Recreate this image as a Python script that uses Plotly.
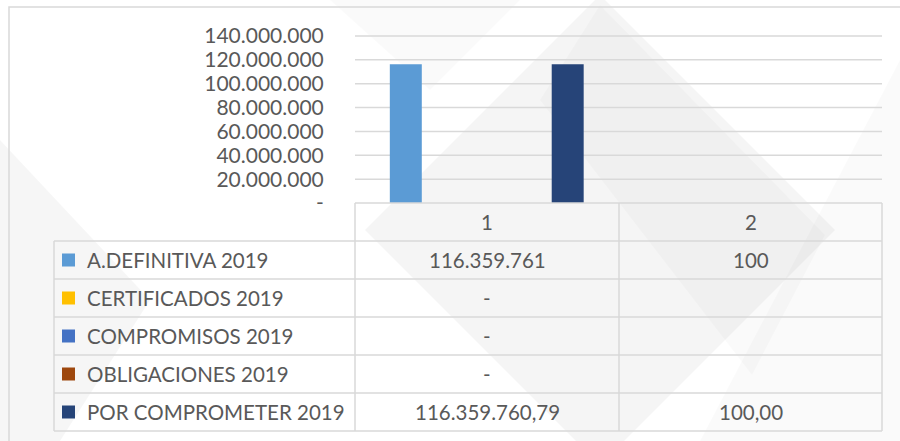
import plotly.graph_objects as go

categories = ["1", "2"]
series_names = ["A.DEFINITIVA 2019", "CERTIFICADOS 2019", "COMPROMISOS 2019",
                "OBLIGACIONES 2019", "POR COMPROMETER 2019"]
definitiva = [116359761, 100]
certificados = [0, None]
compromisos = [0, None]
obligaciones = [0, None]
por_comprometer = [116359760.79, 100.00]
decimals = [0, 0, 0, 0, 2]
colors = ["#5B9BD5", "#FFC000", "#4472C4", "#9E480E", "#264478"]
y_ticks = [0, 20000000, 40000000, 60000000, 80000000, 100000000, 120000000, 140000000]

all_series = [definitiva, certificados, compromisos, obligaciones, por_comprometer]

W, H = 900, 441
FONT = "Lato"
GREY_TXT = "#595959"
LINE = "#d9d9d9"


def px(x):
    return x / W


def py(y):
    return 1 - y / H


def fmt(v, dec):
    if v is None:
        return ""
    if v == 0:
        return "-"
    s = f"{v:,.{dec}f}"
    return s.replace(",", "#").replace(".", ",").replace("#", ".")


def path(points):
    return "M" + " L".join(f"{px(x)},{py(y)}" for x, y in points) + " Z"


fig = go.Figure()
for name, vals, col in zip(series_names, all_series, colors):
    fig.add_trace(go.Bar(x=categories, y=[v if v is not None else 0 for v in vals],
                         name=name, marker=dict(color=col, line=dict(width=0))))

shapes = []
# watermark shapes in background
for pts, op in [
    ([(600, -5), (835, 230), (600, 465), (365, 230)], 0.04),
    ([(600, 5), (825, 235), (752, 375), (540, 100)], 0.02),
    ([(0, 140), (150, 300), (60, 441), (0, 441)], 0.035),
    ([(900, 60), (700, 441), (900, 441)], 0.02),
    ([(330, 0), (520, 0), (430, 90)], 0.02),
]:
    shapes.append(dict(type="path", xref="paper", yref="paper", path=path(pts),
                       fillcolor=f"rgba(0,0,0,{op})", line=dict(width=0), layer="below"))

x_left, x_mid1, x_mid2, x_right = 54, 355, 619, 882

# horizontal gridlines on the value axis
for t in y_ticks[1:]:
    shapes.append(dict(type="line", xref="paper", yref="y", x0=px(x_mid1), x1=px(x_right),
                       y0=t, y1=t, line=dict(color=LINE, width=1.5), layer="below"))

# outer frame
shapes.append(dict(type="rect", xref="paper", yref="paper", x0=px(9), y0=py(460), x1=px(910), y1=py(7),
                   line=dict(color=LINE, width=1.5), fillcolor="rgba(0,0,0,0)"))

# data table grid
row_h = 38
top = 203
n_rows = len(series_names)
bottom = top + row_h * (n_rows + 1)
tl = dict(color=LINE, width=1.5)
shapes.append(dict(type="line", xref="paper", yref="paper", x0=px(x_mid1), x1=px(x_right),
                   y0=py(top), y1=py(top), line=tl))
for i in range(1, n_rows + 2):
    y = top + row_h * i
    shapes.append(dict(type="line", xref="paper", yref="paper", x0=px(x_left), x1=px(x_right),
                       y0=py(y), y1=py(y), line=tl))
shapes.append(dict(type="line", xref="paper", yref="paper", x0=px(x_left), x1=px(x_left),
                   y0=py(top + row_h), y1=py(bottom), line=tl))
for xv in [x_mid1, x_mid2, x_right]:
    shapes.append(dict(type="line", xref="paper", yref="paper", x0=px(xv), x1=px(xv),
                       y0=py(top), y1=py(bottom), line=tl))

annotations = []
tfont = dict(family=FONT, size=20.5, color=GREY_TXT)
col_centers = [(x_mid1 + x_mid2) / 2, (x_mid2 + x_right) / 2]
for c, cx in zip(categories, col_centers):
    annotations.append(dict(x=px(cx), y=py(top + row_h / 2), xref="paper", yref="paper",
                            xanchor="center", yanchor="middle",
                            text=c, showarrow=False, font=tfont))
for i, (name, vals, col, dec) in enumerate(zip(series_names, all_series, colors, decimals)):
    yc = top + row_h * (i + 1.5)
    shapes.append(dict(type="rect", xref="paper", yref="paper", x0=px(62), x1=px(75),
                       y0=py(yc - 6.5), y1=py(yc + 6.5), fillcolor=col, line=dict(width=0)))
    annotations.append(dict(x=px(85), y=py(yc), xref="paper", yref="paper",
                            xanchor="left", yanchor="middle",
                            text=name, showarrow=False, font=tfont))
    for v, cx in zip(vals, col_centers):
        annotations.append(dict(x=px(cx), y=py(yc), xref="paper", yref="paper",
                                xanchor="center", yanchor="middle",
                                text=fmt(v, dec), showarrow=False, font=tfont))

# small headroom above the 140M line
y_top = 143000000
y_top_px = 203 - (203 - 36) * y_top / 140000000

fig.update_layout(
    width=W, height=H,
    autosize=False,
    margin=dict(l=0, r=0, t=0, b=0, pad=0),
    paper_bgcolor="white",
    plot_bgcolor="rgba(0,0,0,0)",
    barmode="group",
    bargap=0.232,
    bargroupgap=0.21,
    showlegend=False,
    shapes=shapes,
    annotations=annotations,
    xaxis=dict(domain=[px(x_mid1), px(x_right)], showticklabels=False, showgrid=False,
               zeroline=False, showline=False, fixedrange=True, automargin=False),
    yaxis=dict(domain=[py(top), py(y_top_px)], range=[0, y_top], tickvals=y_ticks,
               ticktext=[fmt(v, 0) for v in y_ticks], automargin=False,
               showgrid=False, zeroline=False, showline=False,
               ticks="outside", ticklen=26, tickcolor="rgba(0,0,0,0)",
               tickfont=dict(family=FONT, size=21, color=GREY_TXT)),
)

fig.write_html("out.html", config={"displayModeBar": False},
               post_script="document.body.style.margin='0';")
